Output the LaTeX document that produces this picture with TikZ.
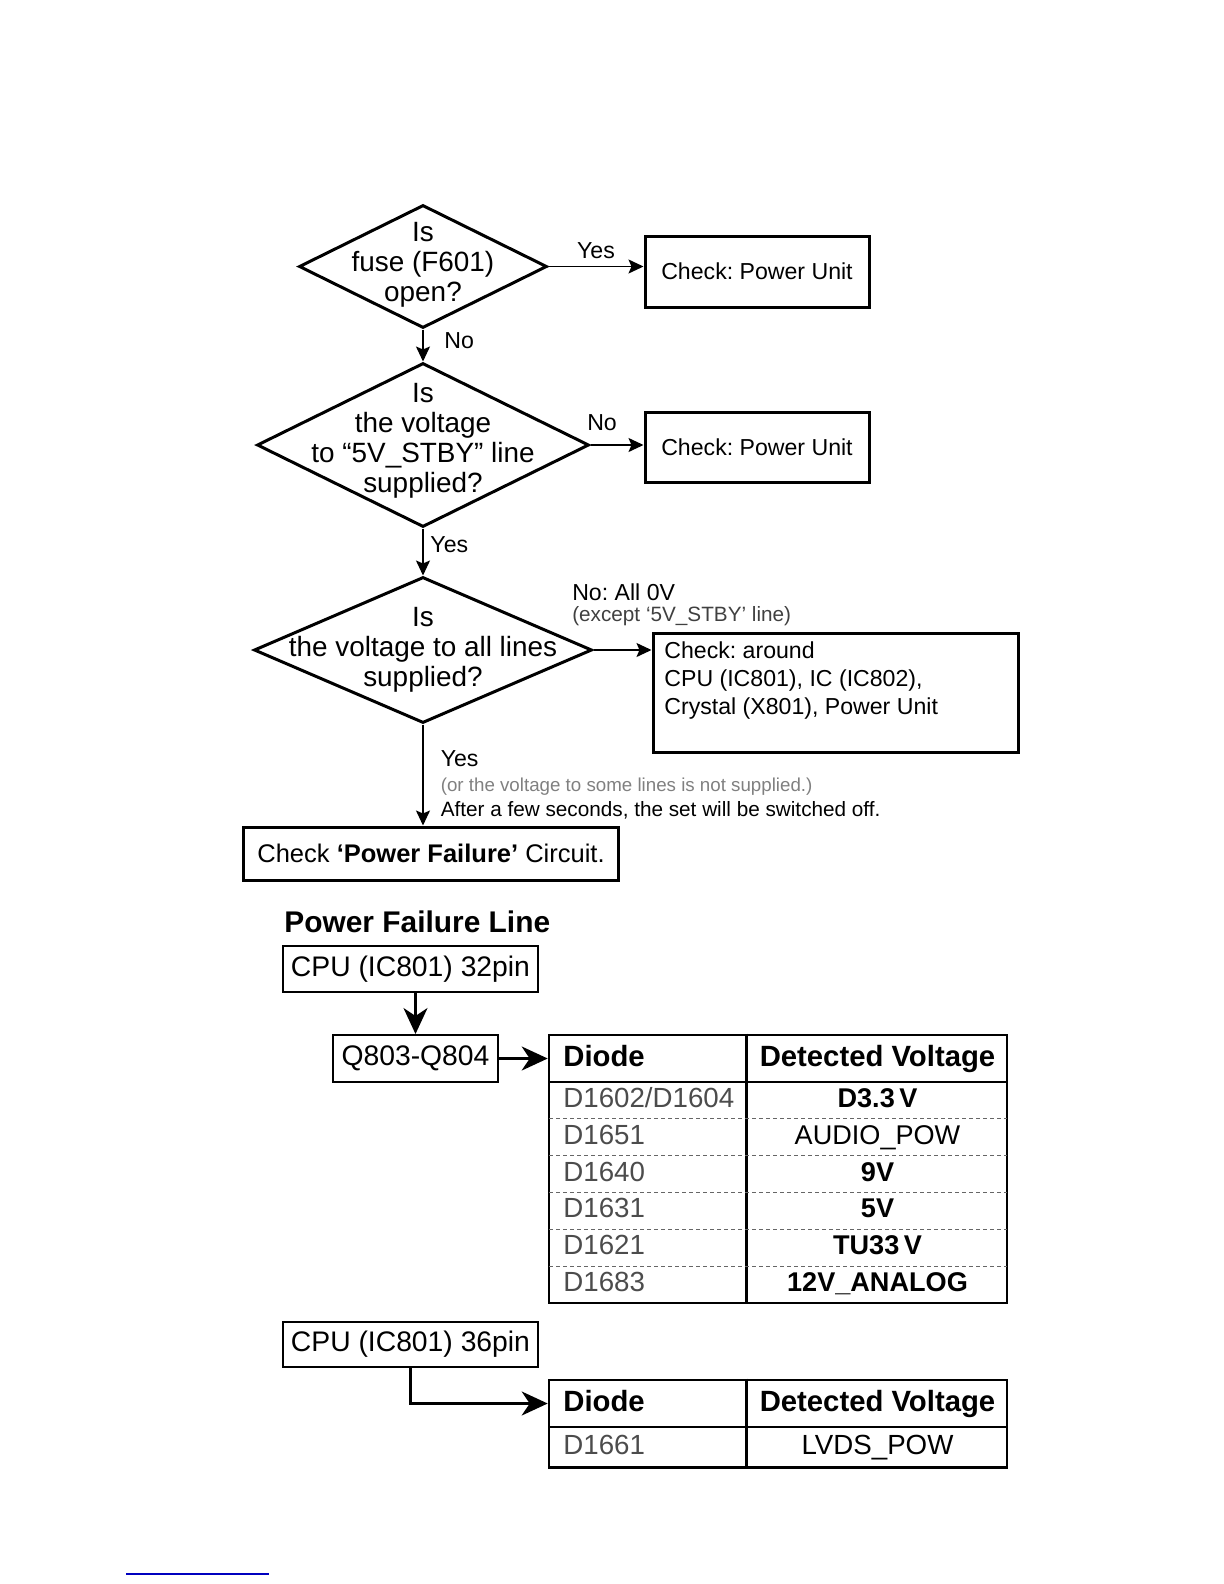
\documentclass[tikz,border=0pt]{standalone}
\usepackage{fontspec}
\setmainfont{Liberation Sans}
\usetikzlibrary{positioning}
\usetikzlibrary{shapes.geometric}
\usetikzlibrary{arrows.meta}
\frenchspacing

\begin{document}
\begin{tikzpicture}[x=0.5bp, y=-0.5bp,
		decision/.style={draw, shape=diamond, line width=1.5bp, inner sep=0pt},
		dtext/.style={align=center, inner sep=0pt, font=\fontsize{14}{15}\selectfont},
		checkbox/.style={draw, line width=1.5bp, inner sep=0pt, font=\fontsize{11.6}{14.25}\selectfont},
		lbl/.style={font=\fontsize{11.6}{13}\selectfont},
		flow/.style={-{Stealth[length=7.5bp, width=7bp, inset=1.5bp]}, line width=0.8bp},
		pinbox/.style={draw, line width=1bp, inner sep=0pt, font=\fontsize{14.2}{16}\selectfont},
		fat/.style={-{Stealth[length=13bp, width=12bp, inset=4bp]}, line width=1.3bp},
		tabframe/.style={draw, line width=1.3bp, inner sep=0pt},
		rowsep/.style={black!60, line width=0.6bp, dash pattern=on 2bp off 1.5bp},
		headcell/.style={inner sep=0pt, text height=10.5bp, text depth=3bp, font=\bfseries\fontsize{14.7}{16}\selectfont},
		cell/.style={inner sep=0pt, text height=10bp, text depth=3bp, font=\fontsize{13.9}{16}\selectfont},
		volcell/.style={cell, font=\bfseries\fontsize{13.6}{16}\selectfont}
	]
	
	\useasboundingbox (0,0) rectangle (1224,1584);
	
	%decisions
	\node[decision, minimum width=124bp, minimum height=61.5bp] (isfuse) at (423,266.5) {};
	\node[decision, minimum width=166bp, minimum height=82bp] (isstby) at (423,445) {};
	\node[decision, minimum width=169bp, minimum height=73bp] (isall) at (423,650) {};
	\node[dtext] (tfuse) at (423,265) {Is\\fuse (F601)\\open?};
	\node[dtext] (tstby) at (423,441) {Is\\the voltage\\to ``5V\_STBY'' line\\supplied?};
	\node[dtext] (tall) at (423,650) {Is\\the voltage to all lines\\supplied?};
	
	%checks
	\node[checkbox, minimum width=112bp, minimum height=35.5bp] (fusechk) at (757,271.5) {Check: Power Unit};
	\node[checkbox, minimum width=112bp, minimum height=35bp] (stbychk) at (757,447) {Check: Power Unit};
	\node[checkbox, minimum width=182.5bp, minimum height=59.5bp] (allchk) at (835.5,692.5) {};
	\node[align=left, anchor=north west, inner sep=0pt, font=\fontsize{11.6}{14.25}\selectfont] (alltxt) at (664,641)
		{Check: around\\CPU (IC801), IC (IC802),\\Crystal (X801), Power Unit};
	\node[checkbox, minimum width=187bp, minimum height=26.5bp, font=\fontsize{12.8}{14}\selectfont] (pfchk) at (431,853.5)
		{Check \textbf{`Power Failure'} Circuit.};
	
	%flow
	\draw[flow] (isfuse.east) -- (isfuse.east -| fusechk.west) node[lbl, midway, above] {Yes};
	\draw[flow] (isfuse.south) -- (isstby.north) node[lbl, right=7bp, pos=0.35] {No};
	\draw[flow] (isstby.east) -- (isstby.east -| stbychk.west)
		node[lbl, pos=0, anchor=south west, inner sep=0pt, xshift=-2bp, yshift=6.8bp] {No};
	\draw[flow] (isstby.south) -- (isall.north) node[lbl, right, pos=0.34] {Yes};
	\draw[flow] (isall.east) -- (isall.east -| allchk.west)
		node[pos=0, anchor=south west, inner sep=0pt, align=left, xshift=-11bp, yshift=11.5bp, font=\fontsize{11.6}{10.75}\selectfont]
		{No: All 0V\\{\fontsize{10.4}{10.75}\selectfont\color{black!75}(except `5V\_STBY' line)}};
	\draw[flow] (isall.south) -- (isall.south |- pfchk.north)
		node[pos=0.6, anchor=west, inner sep=0pt, xshift=8.5bp, align=left, font=\fontsize{10.4}{12.5}\selectfont]
		{{\fontsize{11.6}{12.5}\selectfont Yes}\\{\fontsize{9.4}{12.5}\selectfont\color{black!50}(or the voltage to some lines is not supplied.)}\\After a few seconds, the set will be switched off.};
	
	%power failure line
	\node[anchor=west, inner sep=0pt, font=\bfseries\fontsize{15}{17}\selectfont] (pfline) at (284,922) {Power Failure Line};
	\node[pinbox, minimum width=127.5bp, minimum height=23bp] (cpua) at (410.5,969) {CPU (IC801) 32pin};
	\node[pinbox, minimum width=82.5bp, minimum height=23.5bp] (qbox) at (415.5,1058.5) {Q803-Q804};
	\node[pinbox, minimum width=127.5bp, minimum height=22.5bp] (cpub) at (410.5,1344.5) {CPU (IC801) 36pin};
	
	%table 32pin
	\node[tabframe, minimum width=229bp, minimum height=134bp] (taba) at (778,1169) {};
	\node[tabframe, minimum width=229bp, minimum height=23.5bp] (hda) at (778,1058.5) {};
	\draw[line width=1.3bp] ([xshift=99.5bp]taba.north west) -- ([xshift=99.5bp]taba.south west);
	\foreach \k in {1,...,5}
		\draw[rowsep] (549,{1082+36.83*\k}) -- (1007,{1082+36.83*\k});
	\node[headcell, anchor=west] (dioa) at (563,1058.5) {Diode};
	\node[headcell] (vola) at (877.5,1058.5) {Detected Voltage};
	\foreach \dio/\vol [count=\i] in {{D1602/D1604}/D3.3\,V, D1651/\mdseries AUDIO\_POW, D1640/9V, D1631/5V, D1621/TU33\,V, D1683/12V\_ANALOG} {
		\node[cell, anchor=west, black!70] (da\i) at (563,{1082+36.83*(\i-0.5)}) {\dio};
		\node[volcell] (va\i) at (877.5,{1082+36.83*(\i-0.5)}) {\vol};
	}
	
	%table 36pin
	\node[tabframe, minimum width=229bp, minimum height=43.75bp] (tabb) at (778,1423.75) {};
	\node[tabframe, minimum width=229bp, minimum height=23.5bp] (hdb) at (778,1403.5) {};
	\draw[line width=1.3bp] ([xshift=99.5bp]tabb.north west) -- ([xshift=99.5bp]tabb.south west);
	\node[headcell, anchor=west] (diob) at (563,1403.5) {Diode};
	\node[headcell] (volb) at (877.5,1403.5) {Detected Voltage};
	\node[cell, anchor=west, black!70] (db1) at (563,1447.5) {D1661};
	\node[cell] (vb1) at (877.5,1447.5) {LVDS\_POW};
	
	%arrows
	\draw[fat] (qbox |- cpua.south) -- (qbox.north);
	\draw[fat] (qbox.east) -- (hda.west);
	\draw[fat] (cpub.south) |- (hdb.west);
	
	\draw[blue!75!black, line width=0.9bp] (126,1574) -- (269,1574);
\end{tikzpicture}
\end{document}
